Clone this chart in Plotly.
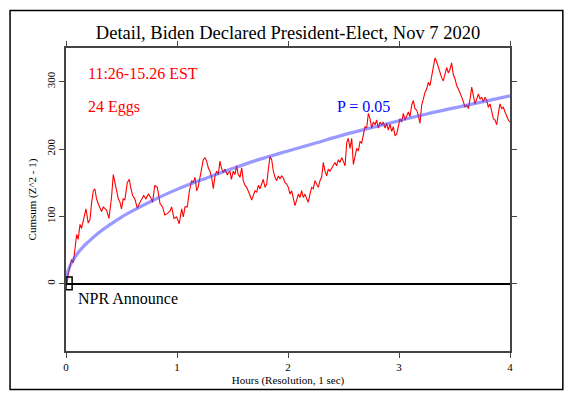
import plotly.graph_objects as go

# --- data ---
# cumulative deviation, hours since 11:26 EST
hours = [
    0.0, 0.012, 0.02, 0.036, 0.05, 0.066, 0.081, 0.096, 0.11, 0.126, 0.14, 0.156, 0.18, 0.20,
    0.216, 0.23, 0.246, 0.26, 0.275, 0.29, 0.306, 0.32, 0.336, 0.35, 0.366, 0.387, 0.41,
    0.426, 0.441, 0.456, 0.471, 0.486, 0.50, 0.515, 0.53, 0.552, 0.57, 0.583, 0.60, 0.62,
    0.643, 0.667, 0.68, 0.70, 0.72, 0.742, 0.763, 0.78, 0.80, 0.823, 0.847, 0.87, 0.89,
    0.913, 0.937, 0.952, 0.973, 0.997, 1.02, 1.042, 1.057, 1.072, 1.093, 1.11, 1.132, 1.147,
    1.162, 1.177, 1.19, 1.207, 1.222, 1.237, 1.252, 1.267, 1.282, 1.297, 1.312, 1.327,
    1.342, 1.357, 1.372, 1.387, 1.40, 1.417, 1.432, 1.453, 1.477, 1.49, 1.507, 1.522,
    1.537, 1.552, 1.567, 1.583, 1.597, 1.613, 1.628, 1.643, 1.658, 1.673, 1.688, 1.703,
    1.718, 1.733, 1.748, 1.763, 1.777, 1.793, 1.808, 1.823, 1.838, 1.853, 1.868, 1.883,
    1.898, 1.913, 1.928, 1.943, 1.958, 1.973, 1.988, 2.003, 2.018, 2.033, 2.048, 2.063,
    2.078, 2.093, 2.108, 2.123, 2.138, 2.153, 2.168, 2.183, 2.198, 2.213, 2.228, 2.243,
    2.258, 2.273, 2.288, 2.303, 2.318, 2.333, 2.348, 2.363, 2.378, 2.393, 2.408, 2.423,
    2.438, 2.453, 2.468, 2.484, 2.498, 2.514, 2.529, 2.543, 2.559, 2.574, 2.589, 2.604,
    2.619, 2.634, 2.649, 2.664, 2.679, 2.694, 2.709, 2.724, 2.739, 2.754, 2.769, 2.784,
    2.799, 2.814, 2.829, 2.844, 2.859, 2.874, 2.889, 2.904, 2.919, 2.934, 2.949, 2.964,
    2.979, 2.994, 3.009, 3.024, 3.039, 3.054, 3.069, 3.084, 3.099, 3.114, 3.129, 3.144,
    3.159, 3.174, 3.189, 3.204, 3.219, 3.234, 3.249, 3.264, 3.279, 3.294, 3.309, 3.324,
    3.339, 3.354, 3.369, 3.384, 3.399, 3.414, 3.429, 3.444, 3.459, 3.474, 3.489, 3.505,
    3.52, 3.535, 3.55, 3.565, 3.58, 3.595, 3.61, 3.625, 3.64, 3.655, 3.67, 3.685, 3.70,
    3.715, 3.73, 3.745, 3.76, 3.775, 3.79, 3.805, 3.82, 3.835, 3.85, 3.865, 3.88, 3.895,
    3.91, 3.925, 3.94, 3.955, 3.97, 3.985, 4.0,
]
cumsum = [
    0, 4, 14, 26, 36, 31, 55, 73, 66, 88, 82, 92, 111, 90,
    95, 119, 138, 141, 126, 119, 111, 107, 114, 111, 109, 97, 128,
    162, 148, 138, 126, 121, 111, 126, 124, 150, 155, 143, 131, 126,
    112, 121, 126, 131, 126, 133, 128, 121, 146, 143, 119, 114, 102,
    104, 108, 114, 97, 99, 89, 111, 99, 114, 114, 136, 153, 150,
    158, 138, 143, 160, 170, 184, 187, 182, 172, 167, 158, 141,
    160, 167, 162, 182, 172, 165, 170, 162, 167, 155, 167, 162,
    175, 162, 158, 172, 153, 146, 143, 138, 131, 124, 133, 138,
    136, 146, 141, 148, 155, 143, 148, 170, 189, 184, 167, 158,
    153, 160, 156, 160, 157, 150, 148, 143, 133, 138, 124, 116,
    124, 133, 128, 138, 128, 133, 126, 121, 133, 143, 141, 153,
    148, 143, 153, 158, 180, 167, 160, 170, 167, 172, 175, 180,
    175, 184, 180, 187, 182, 175, 209, 216, 201, 216, 177, 192,
    201, 197, 211, 209, 223, 233, 231, 253, 245, 231, 240, 236,
    243, 231, 240, 236, 240, 231, 238, 228, 237, 226, 233, 220,
    222, 236, 245, 240, 253, 243, 250, 255, 248, 265, 272, 260,
    258, 250, 238, 265, 274, 284, 289, 299, 294, 309, 323, 335,
    330, 321, 313, 306, 301, 313, 321, 313, 318, 328, 311, 304,
    294, 289, 284, 277, 270, 262, 265, 260, 274, 292, 279, 267, 274,
    282, 274, 277, 270, 277, 272, 262, 267, 255, 245, 243, 236, 253,
    267, 260, 262, 255, 248, 243, 240,
]

# P = 0.05 envelope
env_hours = [0, 0.01, 0.03, 0.06, 0.1, 0.15, 0.2, 0.3, 0.4, 0.5, 0.65, 0.8, 1.0, 1.25,
             1.5, 1.75, 2.0, 2.25, 2.5, 2.75, 3.0, 3.25, 3.5, 3.75, 4.0]
env_vals = [0, 14, 24, 34, 44, 54, 62, 76.5, 88, 99, 112.5, 125, 140, 156,
            171, 185, 197, 209, 221, 231.5, 242, 252, 261, 270, 279]

x_ticks = [0, 1, 2, 3, 4]
y_ticks = [0, 100, 200, 300]
npr_time = 0.0

SERIF = "Liberation Serif"

fig = go.Figure()
fig.add_trace(go.Scatter(x=hours, y=cumsum, mode="lines",
                         line=dict(color="#ff0000", width=1.1), hoverinfo="skip"))
fig.add_trace(go.Scatter(x=env_hours, y=env_vals, mode="lines", line_shape="spline",
                         line=dict(color="rgba(70,70,255,0.55)", width=3.2), hoverinfo="skip"))

# event marker box at the announcement
fig.add_shape(type="rect", x0=npr_time, x1=npr_time + 0.055, y0=-9, y1=10,
              line=dict(color="black", width=1.5))
# outer frame
fig.add_shape(type="rect", xref="paper", yref="paper", x0=-0.126, x1=1.119, y0=-0.127, y1=1.124,
              line=dict(color="black", width=1.5))

notes = [
    (0.18, 312, "11:26-15.26 EST", "#ff0000"),
    (0.18, 263, "24 Eggs", "#ff0000"),
    (2.42, 263, "P = 0.05", "#0000ff"),
    (0.09, -22, "NPR Announce", "black"),
]
for nx, ny, txt, col in notes:
    fig.add_annotation(x=nx, y=ny, text=txt, showarrow=False, xanchor="left", yanchor="middle",
                       font=dict(family=SERIF, size=16, color=col))

# the page body has an 8px margin, so the figure is shrunk and shifted to compensate
fig.update_layout(
    width=559, height=389,
    margin=dict(l=58, r=57, t=40, b=42),
    paper_bgcolor="white", plot_bgcolor="white",
    showlegend=False,
    title=dict(text="Detail, Biden Declared President-Elect, Nov 7 2020", x=0.5, xref="paper",
               y=0.938, yref="container", yanchor="middle",
               font=dict(family=SERIF, size=18.5, color="black")),
    font=dict(family=SERIF, color="black"),
)
fig.update_xaxes(range=[0, 4], tickvals=x_ticks, ticks="outside", ticklen=5, tickcolor="#444",
                 showline=True, linecolor="#444", linewidth=1.5, mirror="ticks",
                 showgrid=False, zeroline=False, tickfont=dict(size=11),
                 title=dict(text="Hours (Resolution, 1 sec)", font=dict(size=11), standoff=4))
fig.update_yaxes(range=[-100, 350], tickvals=y_ticks, ticks="outside", ticklen=5, tickcolor="#444",
                 showline=True, linecolor="#444", linewidth=1.5, mirror="ticks",
                 showgrid=False, zeroline=True, zerolinecolor="black", zerolinewidth=2,
                 tickangle=-90, tickfont=dict(size=11),
                 title=dict(text="Cumsum (Z^2 - 1)", font=dict(size=11), standoff=6))

fig.write_html("out.html")
